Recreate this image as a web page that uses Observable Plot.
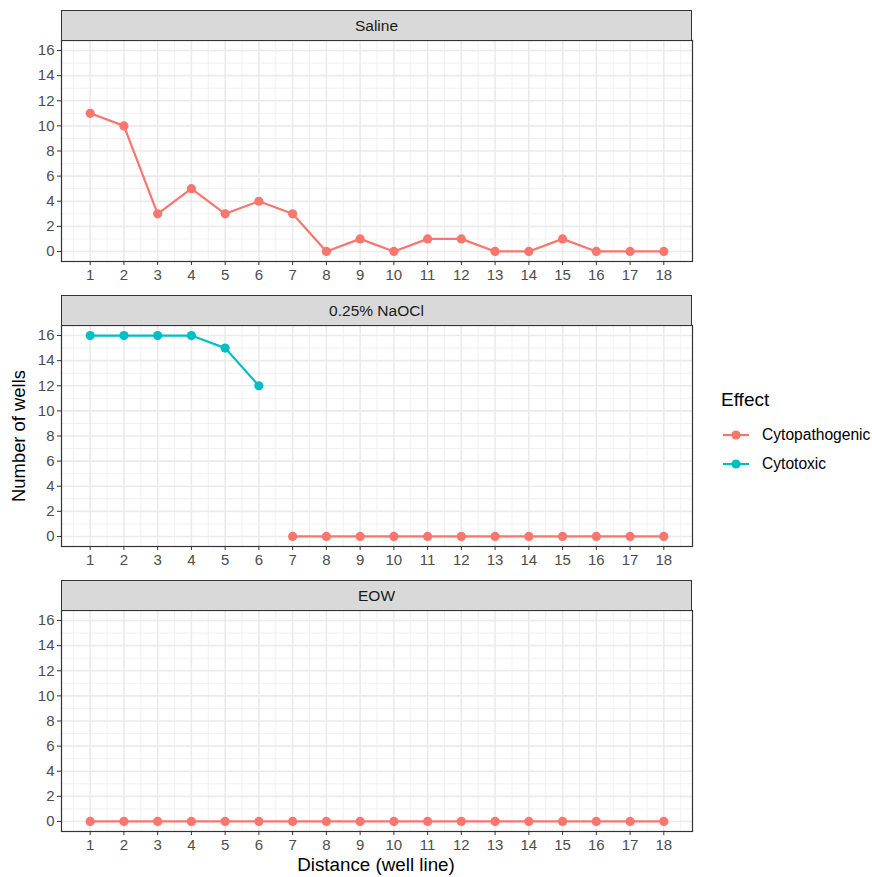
<!DOCTYPE html>
<html><head><meta charset="utf-8">
<script src="https://cdn.jsdelivr.net/npm/d3@7"></script>
<script src="https://cdn.jsdelivr.net/npm/@observablehq/plot@0.6"></script>
<style>
body{margin:0;background:#fff;font-family:"Liberation Sans",Arial,sans-serif;}
#root{position:relative;width:872px;height:877px;overflow:hidden;background:#fff;}
.strip{position:absolute;box-sizing:border-box;background:#D9D9D9;border:1.2px solid #333;color:#1A1A1A;font-size:15.5px;display:flex;align-items:center;justify-content:center;}
.panel{position:absolute;left:0;}
.title{position:absolute;color:#000;font-size:18.8px;white-space:nowrap;}
.legend{position:absolute;left:721px;top:389px;}
.legend .lt{font-size:19px;color:#000;margin-bottom:9px;}
.legend .item{display:flex;align-items:center;height:29px;font-size:15.6px;color:#000;}
.legend svg{margin-left:2px;margin-right:13px;}
</style></head><body><div id="root"></div>
<script>
const panels = ["Saline", "0.25% NaOCl", "EOW"];
const effects = ["Cytopathogenic", "Cytotoxic"];
const effectColors = ["#F8766D", "#00BFC4"];
const distance = [1,2,3,4,5,6,7,8,9,10,11,12,13,14,15,16,17,18];
const xTicks = [1,2,3,4,5,6,7,8,9,10,11,12,13,14,15,16,17,18];
const yTicks = [0,2,4,6,8,10,12,14,16];

const salineCytopathogenic = [11,10,3,5,3,4,3,0,1,0,1,1,0,0,1,0,0,0];
const naoclCytotoxicDistance = [1,2,3,4,5,6];
const naoclCytotoxic = [16,16,16,16,15,12];
const naoclCytopathogenicDistance = [7,8,9,10,11,12,13,14,15,16,17,18];
const naoclCytopathogenic = [0,0,0,0,0,0,0,0,0,0,0,0];
const eowCytopathogenic = [0,0,0,0,0,0,0,0,0,0,0,0,0,0,0,0,0,0];

const rowsFor = (xs, ys, effect) => xs.map((d, i) => ({distance: d, wells: ys[i], effect}));
const panelRows = [
  rowsFor(distance, salineCytopathogenic, "Cytopathogenic"),
  [...rowsFor(naoclCytotoxicDistance, naoclCytotoxic, "Cytotoxic"),
   ...rowsFor(naoclCytopathogenicDistance, naoclCytopathogenic, "Cytopathogenic")],
  rowsFor(distance, eowCytopathogenic, "Cytopathogenic")
];

const xMinor = xTicks.map(d => d - 0.5).concat([xTicks[xTicks.length - 1] + 0.5]);
const yMinor = yTicks.slice(0, -1).map(d => d + 1);

const root = document.getElementById("root");
const stripTops = [10, 295, 580];
const font = "'Liberation Sans', Arial, sans-serif";

panels.forEach((name, i) => {
  const strip = document.createElement("div");
  strip.className = "strip";
  strip.style.left = "61px";
  strip.style.top = stripTops[i] + "px";
  strip.style.width = "631px";
  strip.style.height = "31px";
  strip.textContent = name;

  const rows = panelRows[i];
  const chart = Plot.plot({
    width: 700, height: 253,
    marginLeft: 61, marginRight: 8, marginTop: 1, marginBottom: 31,
    x: {domain: [0.15, 18.85], label: null},
    y: {domain: [-0.8, 16.8], label: null},
    color: {domain: effects, range: effectColors},
    style: {fontFamily: font, background: "transparent", overflow: "visible"},
    marks: [
      Plot.ruleX(xMinor, {stroke: "#EEEEEE", strokeWidth: 0.8}),
      Plot.ruleY(yMinor, {stroke: "#EEEEEE", strokeWidth: 0.8}),
      Plot.ruleX(xTicks, {stroke: "#EBEBEB", strokeWidth: 1.6}),
      Plot.ruleY(yTicks, {stroke: "#EBEBEB", strokeWidth: 1.6}),
      Plot.line(rows, {x: "distance", y: "wells", stroke: "effect", z: "effect", strokeWidth: 2.2}),
      Plot.dot(rows, {x: "distance", y: "wells", fill: "effect", r: 4.6}),
      Plot.frame({stroke: "#333333", strokeWidth: 1.2}),
      Plot.axisX(xTicks, {tickSize: 4, tickPadding: 4, stroke: "#333333", fill: "#4D4D4D", fontSize: 15, label: null, tickFormat: d => String(d)}),
      Plot.axisY(yTicks, {tickSize: 4, tickPadding: 3, stroke: "#333333", fill: "#4D4D4D", fontSize: 15, label: null, tickFormat: d => String(d)})
    ]
  });
  chart.classList.add("panel");
  chart.style.position = "absolute";
  chart.style.top = (stripTops[i] + 29) + "px";
  chart.style.left = "0px";
  root.appendChild(chart);
  root.appendChild(strip);
});

const xt = document.createElement("div");
xt.className = "title";
xt.textContent = "Distance (well line)";
xt.style.left = "376px"; xt.style.top = "854px";
xt.style.transform = "translateX(-50%)";
root.appendChild(xt);

const yt = document.createElement("div");
yt.className = "title";
yt.textContent = "Number of wells";
yt.style.left = "19px"; yt.style.top = "436px";
yt.style.fontSize = "18.4px";
yt.style.transform = "translate(-50%,-50%) rotate(-90deg)";
root.appendChild(yt);

const lg = document.createElement("div");
lg.className = "legend";
lg.innerHTML = `<div class="lt">Effect</div>`;
effects.forEach((e, i) => {
  const item = document.createElement("div");
  item.className = "item";
  const svg = d3.create("svg").attr("width", 26).attr("height", 12);
  svg.append("line").attr("x1", 0).attr("x2", 26).attr("y1", 6).attr("y2", 6)
    .attr("stroke", effectColors[i]).attr("stroke-width", 2.2);
  svg.append("circle").attr("cx", 13).attr("cy", 6).attr("r", 4.6).attr("fill", effectColors[i]);
  item.appendChild(svg.node());
  const t = document.createElement("span");
  t.textContent = e;
  item.appendChild(t);
  lg.appendChild(item);
});
root.appendChild(lg);
</script></body></html>
